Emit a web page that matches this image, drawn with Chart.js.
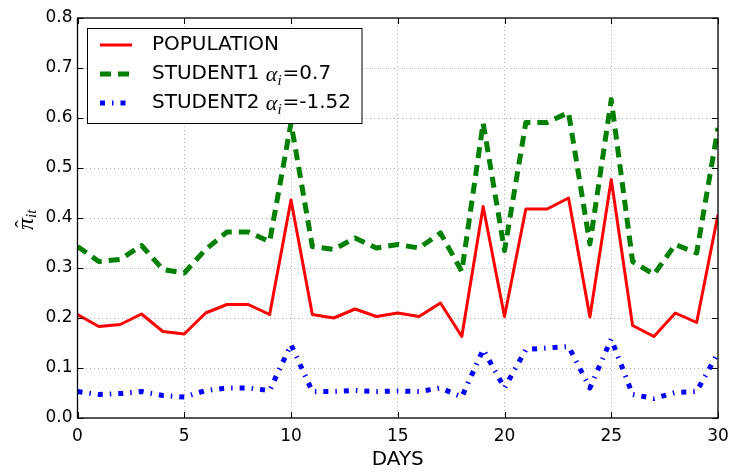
<!DOCTYPE html>
<html lang="en">

<head>
    <meta charset="UTF-8">
    <title>Daily estimates</title>
    <script src="https://cdn.jsdelivr.net/npm/chart.js"></script>
</head>

<style>
    * {
        box-sizing: border-box;
        margin: 0;
        padding: 0;
    }

    body {
        background: #fff;
    }

    .chart-wrapper {
        width: 730px;
        height: 472px;
    }
</style>

<body>

    <div class="chart-wrapper">
        <canvas id="myChart"></canvas>
    </div>

    <script>
        const days = [0, 1, 2, 3, 4, 5, 6, 7, 8, 9, 10, 11, 12, 13, 14, 15, 16, 17, 18, 19, 20,
            21, 22, 23, 24, 25, 26, 27, 28, 29, 30];

        const population = [0.207, 0.183, 0.187, 0.208, 0.173, 0.168, 0.210, 0.227, 0.227, 0.207,
            0.436, 0.207, 0.200, 0.218, 0.203, 0.210, 0.203, 0.230, 0.163, 0.423,
            0.203, 0.418, 0.418, 0.440, 0.202, 0.477, 0.185, 0.163, 0.210, 0.191, 0.407];

        const student1 = [0.343, 0.313, 0.317, 0.345, 0.297, 0.290, 0.337, 0.372, 0.372, 0.353,
            0.590, 0.343, 0.337, 0.360, 0.340, 0.347, 0.340, 0.370, 0.293, 0.590,
            0.335, 0.591, 0.591, 0.611, 0.348, 0.637, 0.313, 0.287, 0.347, 0.330, 0.580];

        const student2 = [0.053, 0.047, 0.049, 0.053, 0.045, 0.042, 0.055, 0.060, 0.060, 0.055,
            0.147, 0.053, 0.053, 0.055, 0.053, 0.054, 0.053, 0.060, 0.042, 0.137,
            0.060, 0.137, 0.140, 0.143, 0.060, 0.158, 0.047, 0.039, 0.051, 0.053, 0.130];

        const xTicks = [0, 5, 10, 15, 20, 25, 30];
        const yTicks = [0, 0.1, 0.2, 0.3, 0.4, 0.5, 0.6, 0.7, 0.8];

        // legend text: [prefix, alpha value] (null = plain label)
        const legendLabels = [
            ['POPULATION', null],
            ['STUDENT1 ', '=0.7'],
            ['STUDENT2 ', '=-1.52'],
        ];

        const sansFont = '"DejaVu Sans", sans-serif';
        const mathFont = '"Liberation Serif", "DejaVu Serif", serif';

        function toPoints(values) {
            return days.map((d, i) => ({ x: d, y: values[i] }));
        }

        // frame, inward tick marks, legend box and the y-axis symbol
        const decorations = {
            id: 'decorations',
            afterDatasetsDraw(chart) {
                const { ctx, chartArea: a, scales } = chart;
                const tickLen = 6;
                ctx.save();
                ctx.strokeStyle = '#000';
                ctx.lineWidth = 1;
                ctx.setLineDash([]);
                ctx.beginPath();
                xTicks.forEach(t => {
                    const px = Math.round(scales.x.getPixelForValue(t)) + 0.5;
                    ctx.moveTo(px, a.bottom); ctx.lineTo(px, a.bottom - tickLen);
                    ctx.moveTo(px, a.top); ctx.lineTo(px, a.top + tickLen);
                });
                yTicks.forEach(t => {
                    const py = Math.round(scales.y.getPixelForValue(t)) + 0.5;
                    ctx.moveTo(a.left, py); ctx.lineTo(a.left + tickLen, py);
                    ctx.moveTo(a.right, py); ctx.lineTo(a.right - tickLen, py);
                });
                ctx.stroke();
                ctx.lineWidth = 1.3;
                ctx.strokeRect(a.left, a.top, a.right - a.left, a.bottom - a.top);

                // legend
                const box = { x: 87.5, y: 28.5, w: 274.5, h: 95 };
                ctx.fillStyle = '#fff';
                ctx.fillRect(box.x, box.y, box.w, box.h);
                ctx.lineWidth = 1;
                ctx.strokeRect(box.x, box.y, box.w, box.h);
                const rows = [45, 74, 103];
                chart.data.datasets.forEach((ds, i) => {
                    const y = rows[i];
                    ctx.strokeStyle = ds.borderColor;
                    ctx.lineWidth = ds.borderWidth;
                    ctx.setLineDash(ds.borderDash || []);
                    ctx.lineCap = 'butt';
                    ctx.beginPath();
                    ctx.moveTo(100, y);
                    ctx.lineTo(132, y);
                    ctx.stroke();
                    ctx.setLineDash([]);

                    const [label, alpha] = legendLabels[i];
                    ctx.fillStyle = '#000';
                    ctx.textBaseline = 'middle';
                    ctx.textAlign = 'left';
                    ctx.font = '20px ' + sansFont;
                    let tx = 152;
                    ctx.fillText(label, tx, y);
                    if (alpha !== null) {
                        tx += ctx.measureText(label).width;
                        ctx.font = 'italic 22px ' + mathFont;
                        ctx.fillText('α', tx, y + 1);
                        tx += ctx.measureText('α').width;
                        ctx.font = 'italic 15px ' + mathFont;
                        ctx.fillText('i', tx, y + 7);
                        tx += ctx.measureText('i').width + 1;
                        ctx.font = '20px ' + sansFont;
                        ctx.fillText(alpha, tx, y);
                    }
                });

                // y-axis symbol: pi hat with subscript it, reading upwards
                ctx.translate(33, 224);
                ctx.rotate(-Math.PI / 2);
                ctx.fillStyle = '#000';
                ctx.textBaseline = 'alphabetic';
                ctx.textAlign = 'center';
                ctx.font = 'italic 24px ' + mathFont;
                ctx.fillText('\u03C0', 0, 0);
                ctx.font = '22px ' + mathFont;
                ctx.fillText('\u02C6', 0, -3);
                ctx.textAlign = 'left';
                ctx.font = 'italic 15px ' + mathFont;
                ctx.fillText('it', 6, 3);
                ctx.restore();
            }
        };

        const data = {
            datasets: [
                {
                    label: 'POPULATION',
                    data: toPoints(population),
                    borderColor: '#ff0000',
                    borderWidth: 3,
                },
                {
                    label: 'STUDENT1',
                    data: toPoints(student1),
                    borderColor: '#008000',
                    borderWidth: 5,
                    borderDash: [11, 7],
                },
                {
                    label: 'STUDENT2',
                    data: toPoints(student2),
                    borderColor: '#0000ff',
                    borderWidth: 5,
                    borderDash: [5, 7, 1.5, 7],
                },
            ]
        };

        const config = {
            type: 'line',
            data: data,
            plugins: [decorations],
            options: {
                responsive: false,
                animation: false,
                layout: {
                    padding: { left: 0, right: 12, top: 18, bottom: 0 }
                },
                elements: {
                    point: { radius: 0 },
                    line: { tension: 0, fill: false, borderCapStyle: 'butt', borderJoinStyle: 'round' }
                },
                datasets: {
                    line: { clip: 0 }
                },
                plugins: {
                    legend: { display: false },
                    tooltip: { enabled: false }
                },
                scales: {
                    x: {
                        type: 'linear',
                        min: 0,
                        max: 30,
                        afterFit: s => {
                            s.height = 54;
                            s.paddingLeft = 0;
                            s.paddingRight = 0;
                        },
                        afterBuildTicks: s => { s.ticks = xTicks.map(v => ({ value: v })); },
                        ticks: {
                            color: '#000',
                            padding: 8,
                            font: { family: sansFont, size: 17 },
                            maxRotation: 0,
                            callback: v => String(v)
                        },
                        grid: { color: 'rgba(0,0,0,0.3)', lineWidth: 1, drawTicks: false },
                        border: { display: false, dash: [1, 3] },
                        title: {
                            display: true,
                            text: 'DAYS',
                            color: '#000',
                            font: { family: sansFont, size: 20 },
                            padding: { top: 0, bottom: 0 }
                        }
                    },
                    y: {
                        min: 0,
                        max: 0.8,
                        afterFit: s => {
                            s.width = 77.5;
                            s.paddingTop = 0;
                            s.paddingBottom = 0;
                        },
                        afterBuildTicks: s => { s.ticks = yTicks.map(v => ({ value: v })); },
                        ticks: {
                            color: '#000',
                            padding: 5,
                            font: { family: sansFont, size: 17 },
                            callback: v => v.toFixed(1)
                        },
                        grid: { color: 'rgba(0,0,0,0.3)', lineWidth: 1, drawTicks: false },
                        border: { display: false, dash: [1, 3] }
                    }
                }
            }
        };

        const canvas = document.getElementById('myChart');
        canvas.width = 730;
        canvas.height = 472;
        new Chart(canvas, config);
    </script>

</body>

</html>
